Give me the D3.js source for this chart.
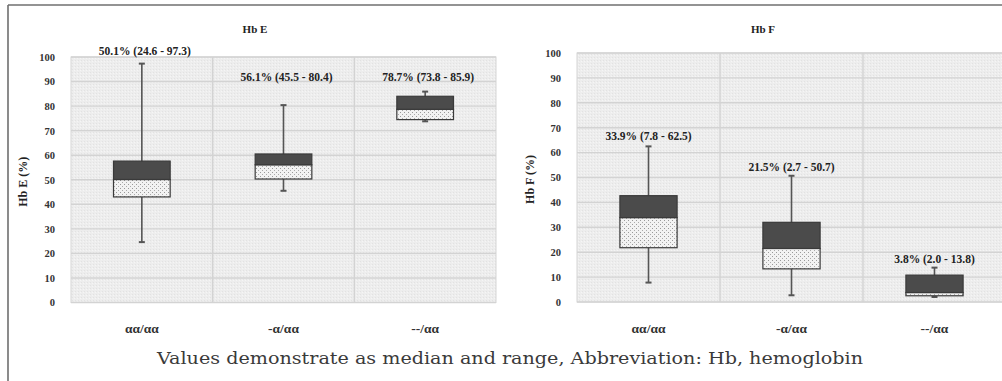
<!DOCTYPE html>
<html><head><meta charset="utf-8">
<script src="https://cdn.jsdelivr.net/npm/d3@7"></script>
<style>
html,body{margin:0;padding:0;background:#fff;}
svg{display:block;}
</style></head>
<body>
<svg id="chart" width="1002" height="381"></svg>
<script>
// ---------- data ----------
const groups = ["αα/αα", "-α/αα", "--/αα"];
const yTicks = [0, 10, 20, 30, 40, 50, 60, 70, 80, 90, 100];

const hbeMin = [24.6, 45.5, 73.8];
const hbeQ1 = [43.0, 50.3, 74.5];
const hbeMed = [50.1, 56.1, 78.7];
const hbeQ3 = [57.6, 60.5, 84.0];
const hbeMax = [97.3, 80.4, 85.9];
const hbeLabelAt = [102.6, 92.0, 92.0];

const hbfMin = [7.8, 2.7, 2.0];
const hbfQ1 = [21.8, 13.3, 2.5];
const hbfMed = [33.9, 21.5, 3.8];
const hbfQ3 = [42.7, 32.0, 10.8];
const hbfMax = [62.5, 50.7, 13.8];
const hbfLabelAt = [66.7, 54.3, 17.3];

const footerText = "Values demonstrate as median and range, Abbreviation: Hb, hemoglobin";

// ---------- drawing ----------
const svg = d3.select("#chart");
const defs = svg.append("defs");

const bg = defs.append("pattern").attr("id", "bgpat").attr("patternUnits", "userSpaceOnUse")
  .attr("width", 3).attr("height", 3);
bg.append("rect").attr("width", 3).attr("height", 3).attr("fill", "#ededed");
bg.append("rect").attr("x", 0).attr("y", 0).attr("width", 1).attr("height", 1).attr("fill", "#e2e2e2");
bg.append("rect").attr("x", 2).attr("y", 1).attr("width", 1).attr("height", 1).attr("fill", "#f5f5f5");

const dots = defs.append("pattern").attr("id", "dotpat").attr("patternUnits", "userSpaceOnUse")
  .attr("width", 4).attr("height", 4);
dots.append("rect").attr("width", 4).attr("height", 4).attr("fill", "#f2f2f2");
dots.append("rect").attr("x", 0).attr("y", 0).attr("width", 1).attr("height", 1).attr("fill", "#999");
dots.append("rect").attr("x", 2).attr("y", 2).attr("width", 1).attr("height", 1).attr("fill", "#aaa");

// outer frame (only top and left edges visible)
svg.append("line").attr("x1", 8).attr("x2", 1002).attr("y1", 5).attr("y2", 5)
  .attr("stroke", "#6f6f6f").attr("stroke-width", 1.6);
svg.append("line").attr("x1", 8).attr("x2", 8).attr("y1", 5).attr("y2", 381)
  .attr("stroke", "#6f6f6f").attr("stroke-width", 1.6);

const serif = "'Liberation Serif','Times New Roman',serif";

function panel(opt) {
  const g = svg.append("g");
  const x = d3.scaleBand().domain(groups).range([opt.x0, opt.x1]).paddingInner(0).paddingOuter(0);
  const y = d3.scaleLinear().domain([0, 100]).range([opt.yb, opt.yt]);

  // plot background
  g.append("rect").attr("x", opt.x0).attr("y", y(100)).attr("width", opt.x1 - opt.x0)
    .attr("height", y(0) - y(100)).attr("fill", "url(#bgpat)")
    .attr("stroke", "#d6d6d6").attr("stroke-width", 1);

  // horizontal grid
  g.selectAll(".hg").data(yTicks).join("line")
    .attr("x1", opt.x0).attr("x2", opt.x1)
    .attr("y1", d => y(d)).attr("y2", d => y(d))
    .attr("stroke", "#d3d3d3").attr("stroke-width", 1.4);
  // vertical separators
  g.selectAll(".vg").data(groups.slice(1)).join("line")
    .attr("x1", d => x(d)).attr("x2", d => x(d))
    .attr("y1", y(100)).attr("y2", y(0))
    .attr("stroke", "#d3d3d3").attr("stroke-width", 1.4);

  // y axis labels
  const ya = d3.axisLeft(y).tickValues(yTicks).tickSize(0).tickPadding(16);
  const yg = g.append("g").attr("transform", `translate(${opt.x0},0)`).call(ya);
  yg.select(".domain").remove();
  yg.selectAll("text").attr("font-family", serif).attr("font-weight", "bold")
    .attr("font-size", 10.5).attr("fill", "#333");

  // x axis labels
  const xa = d3.axisBottom(x).tickSize(0).tickPadding(21);
  const xg = g.append("g").attr("transform", `translate(0,${y(0)})`).call(xa);
  xg.select(".domain").remove();
  xg.selectAll("text").attr("font-family", serif).attr("font-weight", "bold")
    .attr("font-size", 13.5).attr("fill", "#333");

  const bw = x.bandwidth() * 0.4;
  const d = groups.map((k, i) => ({
    k, min: opt.min[i], q1: opt.q1[i], med: opt.med[i], q3: opt.q3[i], max: opt.max[i], lab: opt.lab[i]
  }));
  const cx = k => x(k) + x.bandwidth() / 2;

  // whiskers
  g.selectAll(".wh").data(d).join("line")
    .attr("x1", e => cx(e.k)).attr("x2", e => cx(e.k))
    .attr("y1", e => y(e.min)).attr("y2", e => y(e.max))
    .attr("stroke", "#555").attr("stroke-width", 1.6);
  ["min", "max"].forEach(f => {
    g.selectAll(".cap" + f).data(d).join("line")
      .attr("x1", e => cx(e.k) - 3).attr("x2", e => cx(e.k) + 3)
      .attr("y1", e => y(e[f])).attr("y2", e => y(e[f]))
      .attr("stroke", "#555").attr("stroke-width", 2);
  });
  // lower box (Q1 - median), dotted
  g.selectAll(".lo").data(d).join("rect")
    .attr("x", e => cx(e.k) - bw / 2).attr("width", bw)
    .attr("y", e => y(e.med)).attr("height", e => y(e.q1) - y(e.med))
    .attr("fill", "url(#dotpat)").attr("stroke", "#3a3a3a").attr("stroke-width", 1.2);
  // upper box (median - Q3), dark
  g.selectAll(".hi").data(d).join("rect")
    .attr("x", e => cx(e.k) - bw / 2).attr("width", bw)
    .attr("y", e => y(e.q3)).attr("height", e => y(e.med) - y(e.q3))
    .attr("fill", "#4b4b4b").attr("stroke", "#3a3a3a").attr("stroke-width", 1.2);

  // annotations
  g.selectAll(".ann").data(d).join("text")
    .attr("x", e => cx(e.k) + opt.annDx).attr("y", e => y(e.lab) + 4)
    .attr("text-anchor", "middle")
    .attr("font-family", serif).attr("font-weight", "bold").attr("font-size", 11.5).attr("fill", "#222")
    .text(e => `${e.med.toFixed(1)}% (${e.min.toFixed(1)} - ${e.max.toFixed(1)})`);

  // title
  g.append("text").attr("x", opt.titleX).attr("y", 33).attr("text-anchor", "middle")
    .attr("font-family", serif).attr("font-weight", "bold").attr("font-size", 11).attr("fill", "#222")
    .text(opt.title);
  // y title
  g.append("text").attr("transform", `translate(${opt.yTitleX},${(y(0) + y(100)) / 2 + 2}) rotate(-90)`)
    .attr("text-anchor", "middle")
    .attr("font-family", serif).attr("font-weight", "bold").attr("font-size", 12).attr("fill", "#222")
    .text(opt.yTitle);
}

panel({
  x0: 71, x1: 496, yb: 302.5, yt: 57,
  min: hbeMin, q1: hbeQ1, med: hbeMed, q3: hbeQ3, max: hbeMax, lab: hbeLabelAt,
  title: "Hb E", titleX: 255, yTitle: "Hb E (%)", yTitleX: 27, annDx: 3
});
panel({
  x0: 577, x1: 1006, yb: 302, yt: 53,
  min: hbfMin, q1: hbfQ1, med: hbfMed, q3: hbfQ3, max: hbfMax, lab: hbfLabelAt,
  title: "Hb F", titleX: 763, yTitle: "Hb F (%)", yTitleX: 534, annDx: 0
});

// footer
svg.append("text").attr("x", 510).attr("y", 364).attr("text-anchor", "middle")
  .attr("font-family", "'DejaVu Serif',serif").attr("font-size", 16.5).attr("fill", "#3a3a3a")
  .attr("textLength", 706).attr("lengthAdjust", "spacingAndGlyphs")
  .text(footerText);
</script>
</body></html>
